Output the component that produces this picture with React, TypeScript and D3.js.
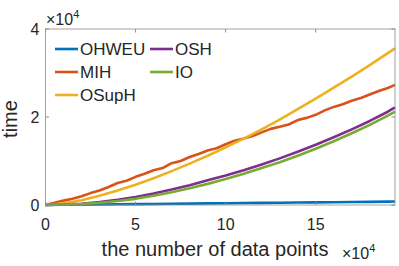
import { useEffect, useRef } from 'react';
import * as d3 from 'd3';

// x in units of 1e4 data points, y in units of 1e4
const xValues = [0, 1, 2, 3, 4, 5, 6, 7, 8, 9, 10, 11, 12, 13, 14, 15, 16, 17, 18, 19, 19.4];
const ohweu = [0, 0.004, 0.008, 0.012, 0.016, 0.02, 0.024, 0.028, 0.032, 0.036, 0.04, 0.044, 0.048, 0.052, 0.056, 0.06, 0.064, 0.068, 0.072, 0.076, 0.078];
const osuph = [0, 0.04, 0.11, 0.21, 0.33, 0.46, 0.61, 0.77, 0.94, 1.12, 1.31, 1.51, 1.72, 1.94, 2.18, 2.42, 2.67, 2.92, 3.18, 3.45, 3.56];
const osh = [0, 0.01, 0.03, 0.07, 0.12, 0.18, 0.26, 0.35, 0.45, 0.56, 0.67, 0.79, 0.92, 1.06, 1.21, 1.37, 1.54, 1.72, 1.91, 2.12, 2.22];
const io = [0, 0.01, 0.02, 0.05, 0.09, 0.14, 0.21, 0.29, 0.38, 0.48, 0.59, 0.71, 0.84, 0.97, 1.12, 1.28, 1.45, 1.63, 1.82, 2.03, 2.12];

// MIH is noisier, sampled at half steps
const mihX = [0, 0.5, 1, 1.5, 2, 2.5, 3, 3.5, 4, 4.5, 5, 5.5, 6, 6.5, 7, 7.5, 8, 8.5, 9, 9.5, 10, 10.5, 11, 11.5, 12, 12.5, 13, 13.5, 14, 14.5, 15, 15.5, 16, 16.5, 17, 17.5, 18, 18.5, 19, 19.4];
const mih = [0, 0.05, 0.1, 0.14, 0.2, 0.27, 0.33, 0.41, 0.5, 0.55, 0.64, 0.71, 0.79, 0.84, 0.95, 1.0, 1.09, 1.16, 1.24, 1.29, 1.38, 1.46, 1.51, 1.57, 1.65, 1.73, 1.78, 1.83, 1.93, 1.98, 2.05, 2.15, 2.23, 2.29, 2.37, 2.43, 2.51, 2.59, 2.66, 2.73];

const xTicks = [0, 5, 10, 15];
const yTicks = [0, 2, 4];

const series = [
  { name: 'OHWEU', xs: xValues, values: ohweu, color: '#0072BD' },
  { name: 'MIH', xs: mihX, values: mih, color: '#D95319' },
  { name: 'OSupH', xs: xValues, values: osuph, color: '#EDB120' },
  { name: 'OSH', xs: xValues, values: osh, color: '#7E2F8E' },
  { name: 'IO', xs: xValues, values: io, color: '#77AC30' },
];

// legend placement: [column, row]
const legendSlots: Record<string, [number, number]> = {
  OHWEU: [0, 0],
  OSH: [1, 0],
  MIH: [0, 1],
  IO: [1, 1],
  OSupH: [0, 2],
};

export default function App() {
  const svgRef = useRef<SVGSVGElement>(null);

  useEffect(() => {
    const W = 399;
    const H = 266;
    const margin = { top: 29, right: 4, bottom: 61, left: 45.5 };
    const innerW = W - margin.left - margin.right;
    const innerH = H - margin.top - margin.bottom;
    const font = 'Liberation Sans, Arial, Helvetica, sans-serif';
    const textColor = '#262626';

    const svg = d3.select(svgRef.current);
    svg.selectAll('*').remove();
    svg.attr('width', W).attr('height', H).style('display', 'block').style('font-family', font);

    svg.append('rect').attr('width', W).attr('height', H).attr('fill', '#fff');

    const g = svg.append('g').attr('transform', `translate(${margin.left},${margin.top})`);

    const x = d3.scaleLinear().domain([0, 19.4]).range([0, innerW]);
    const y = d3.scaleLinear().domain([0, 4]).range([innerH, 0]);

    // Lines
    series.forEach(s => {
      const line = d3
        .line<number>()
        .x((_, i) => x(s.xs[i]))
        .y(d => y(d));
      g.append('path')
        .datum(s.values)
        .attr('fill', 'none')
        .attr('stroke', s.color)
        .attr('stroke-width', 2.6)
        .attr('stroke-linejoin', 'round')
        .attr('d', line);
    });

    // Box
    const axisColor = '#8c8c8c';
    g.append('rect')
      .attr('width', innerW)
      .attr('height', innerH)
      .attr('fill', 'none')
      .attr('stroke', axisColor)
      .attr('stroke-width', 0.8);

    const tickLen = 3.5;
    xTicks.forEach(t => {
      g.append('line').attr('x1', x(t)).attr('x2', x(t)).attr('y1', innerH).attr('y2', innerH - tickLen).attr('stroke', axisColor);
      g.append('line').attr('x1', x(t)).attr('x2', x(t)).attr('y1', 0).attr('y2', tickLen).attr('stroke', axisColor);
      g.append('text')
        .attr('x', x(t))
        .attr('y', innerH + 25)
        .attr('text-anchor', 'middle')
        .attr('font-size', 16)
        .attr('fill', textColor)
        .text(String(t));
    });
    yTicks.forEach(t => {
      g.append('line').attr('x1', 0).attr('x2', tickLen).attr('y1', y(t)).attr('y2', y(t)).attr('stroke', axisColor);
      g.append('line').attr('x1', innerW).attr('x2', innerW - tickLen).attr('y1', y(t)).attr('y2', y(t)).attr('stroke', axisColor);
      g.append('text')
        .attr('x', -6)
        .attr('y', y(t) + 6)
        .attr('text-anchor', 'end')
        .attr('font-size', 16)
        .attr('fill', textColor)
        .text(String(t));
    });

    // Exponent labels
    const expTop = svg.append('text').attr('x', 46).attr('y', 25).attr('font-size', 16).attr('fill', textColor);
    expTop.append('tspan').text('×10');
    expTop.append('tspan').attr('font-size', 11).attr('dy', -7).text('4');

    const expBottom = svg.append('text').attr('x', 342).attr('y', 259).attr('font-size', 16).attr('fill', textColor);
    expBottom.append('tspan').text('×10');
    expBottom.append('tspan').attr('font-size', 11).attr('dy', -7).text('4');

    // Axis labels
    svg.append('text')
      .attr('x', 215)
      .attr('y', 256)
      .attr('text-anchor', 'middle')
      .attr('font-size', 20)
      .attr('fill', textColor)
      .text('the number of data points');

    svg.append('text')
      .attr('transform', 'translate(17,119) rotate(-90)')
      .attr('text-anchor', 'middle')
      .attr('font-size', 20)
      .attr('fill', textColor)
      .text('time');

    // Legend
    const colX = [55, 150];
    const rowY = [49, 72, 95];
    series.forEach(s => {
      const [c, r] = legendSlots[s.name];
      const lg = svg.append('g').attr('transform', `translate(${colX[c]},${rowY[r]})`);
      lg.append('line').attr('x1', 0).attr('x2', 23).attr('y1', 0).attr('y2', 0).attr('stroke', s.color).attr('stroke-width', 2.6);
      lg.append('text')
        .attr('x', 25)
        .attr('y', 6)
        .attr('font-size', 17)
        .attr('fill', textColor)
        .text(s.name);
    });
  }, []);

  return <svg ref={svgRef} style={{ position: 'absolute', left: 0, top: 0 }} />;
}
